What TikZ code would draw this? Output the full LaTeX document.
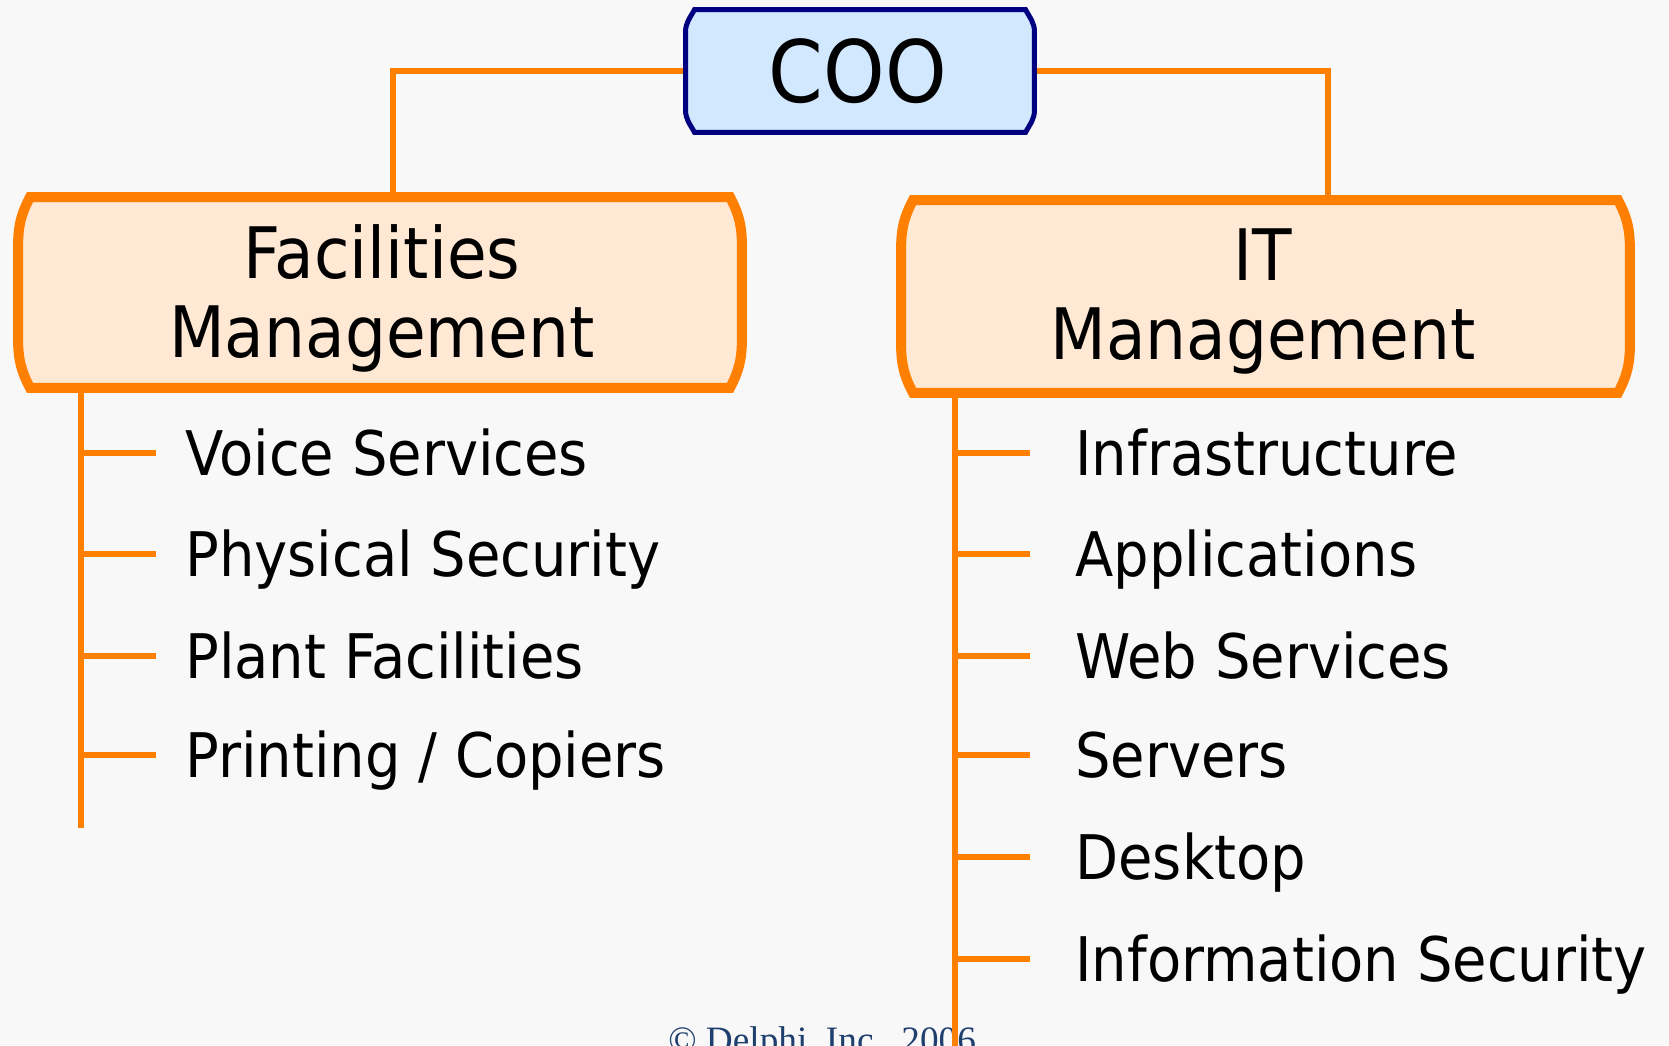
\documentclass[tikz,border=0pt]{standalone}
\usepackage{fontspec}
\setmainfont{DejaVu Sans}[FakeStretch=0.91]
\newfontfamily\copyfont{Liberation Serif}
\definecolor{bgcol}{HTML}{F8F8F8}
\definecolor{orgline}{HTML}{FF8000}
\definecolor{orgfill}{HTML}{FFE8D4}
\definecolor{coofill}{HTML}{D2E8FF}
\definecolor{cooline}{HTML}{000080}
\definecolor{copycol}{HTML}{1F3F6F}
\pgfdeclarelayer{back}
\pgfsetlayers{back,main}
\tikzset{
  boxarea/.style={rectangle, inner sep=0pt, outer sep=0pt},
  cootext/.style={font=\fontsize{49}{55}\selectfont},
  depttext/.style={align=center, inner sep=0pt, font=\fontsize{40.4}{44.8}\selectfont},
  cooedge/.style={draw=cooline, fill=coofill, line width=2.85pt},
  deptedge/.style={draw=orgline, fill=orgfill, line width=5.7pt},
  branch/.style={draw=orgline, line width=3.4pt},
  item/.style={anchor=west, inner sep=0pt, text height=25.5pt, text depth=0pt,
    font=\fontsize{35}{40}\selectfont}
}
% box outline with bent corners: node, x cut, y cut, style
\newcommand\bentbox[4]{%
  \draw[#4] ([xshift=#2]#1.north west) -- ([xshift=-#2]#1.north east)
    to[out=-62,in=90] ([yshift=-#3]#1.north east) -- ([yshift=#3]#1.south east)
    to[out=-90,in=62] ([xshift=-#2]#1.south east) -- ([xshift=#2]#1.south west)
    to[out=118,in=-90] ([yshift=#3]#1.south west) -- ([yshift=-#3]#1.north west)
    to[out=90,in=-118] ([xshift=#2]#1.north west) -- cycle;}
\begin{document}
\begin{tikzpicture}[x=0.02cm, y=-0.02cm]
	\useasboundingbox (0,0) rectangle (1669,1045);
	\begin{pgfonlayer}{back}
	\fill[bgcol] (0,0) rectangle (1669,1045);
	\node[anchor=base west, inner sep=0pt, text=copycol, font=\copyfont\fontsize{21.2}{24}\selectfont] (copy) at (668,1052) {\textcopyright\ Delphi, Inc., 2006};
	\end{pgfonlayer}
	% boxes
	\node[boxarea, minimum width=6.98cm, minimum height=2.46cm] (coo) at (860,71) {};
	\node[cootext] (cootxt) at (858,71) {COO};
	\node[boxarea, minimum width=14.48cm, minimum height=3.82cm] (fm) at (380,292.5) {};
	\node[depttext] (fmtxt) at (382,298.5) {Facilities\\Management};
	\node[boxarea, minimum width=14.58cm, minimum height=3.86cm] (it) at (1265.5,296.5) {};
	\node[depttext] (ittxt) at (1263,301.5) {IT\\Management};
	\coordinate (fmdrop) at (393,0);
	\coordinate (itdrop) at (1328,0);
	\coordinate (fmtrunk) at (81,828);
	\coordinate (ittrunk) at (955,1060);
	\begin{pgfonlayer}{back}
	\draw[branch] (coo.west) -| (fm.north -| fmdrop);
	\draw[branch] (coo.east) -| (it.north -| itdrop);
	\draw[branch] (fm.south -| fmtrunk) -- (fmtrunk);
	\draw[branch] (it.south -| ittrunk) -- (ittrunk);
	\bentbox{coo}{0.18cm}{0.45cm}{cooedge}
	\bentbox{fm}{0.24cm}{1cm}{deptedge}
	\bentbox{it}{0.24cm}{1cm}{deptedge}
	\end{pgfonlayer}
	% facilities list
	\foreach \name/\y [count=\i] in {{Voice Services}/453,{Physical Security}/554,{Plant Facilities}/656,{Printing / Copiers}/755}{
		\node[item] (fm\i) at (185,\y) {\name};
		\coordinate (fmtick\i) at (156,\y);
		\draw[branch] (fmtick\i -| fmtrunk) -- (fmtick\i);
	}
	% IT list
	\foreach \name/\y [count=\i] in {{Infrastructure}/453,{Applications}/554,{Web Services}/656,{Servers}/755,{Desktop}/857,{Information Security}/959}{
		\node[item] (it\i) at (1075,\y) {\name};
		\coordinate (ittick\i) at (1030,\y);
		\draw[branch] (ittick\i -| ittrunk) -- (ittick\i);
	}
\end{tikzpicture}
\end{document}
